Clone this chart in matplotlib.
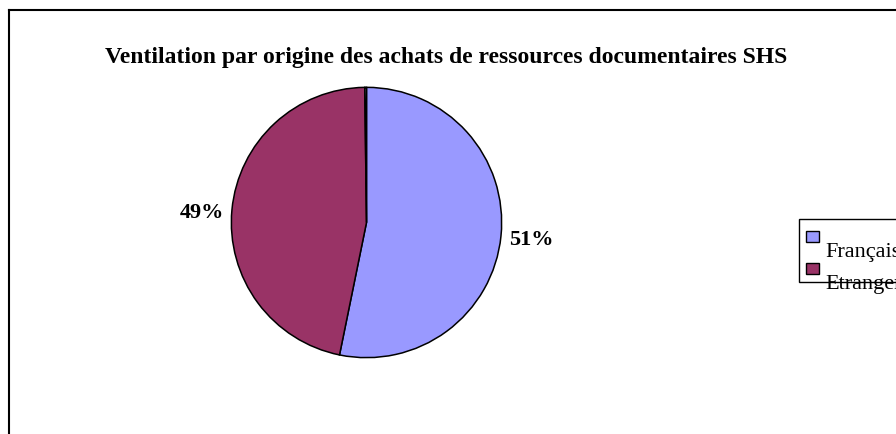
import matplotlib
matplotlib.use("Agg")
import matplotlib.pyplot as plt
from matplotlib.patches import Rectangle
from matplotlib.lines import Line2D

title = "Ventilation par origine des achats de ressources documentaires SHS"
categories = ["Français", "Etranger", ""]
values = [53.2, 46.6, 0.2]
labels = ["51%", "49%"]
colors = ["#9999FF", "#993366", "#FFFFFF"]

W, H = 896, 434
fig = plt.figure(figsize=(W / 100, H / 100), dpi=100)
plt.rcParams["font.family"] = ["Liberation Serif", "DejaVu Serif"]

def fx(x):
    return x / W

def fy(y):
    return 1 - y / H

# frame border (clipped on right/bottom)
fig.add_artist(Line2D([fx(9), fx(9)], [fy(10), 0], color="black", lw=1.5, transform=fig.transFigure))
fig.add_artist(Line2D([fx(9), 1], [fy(10), fy(10)], color="black", lw=1.5, transform=fig.transFigure))

# pie
cx, cy, r = 366.5, 222.5, 136.5
ax = fig.add_axes([fx(cx - r), fy(cy + r), 2 * r / W, 2 * r / H])
ax.pie(values, colors=colors, startangle=90, counterclock=False, radius=1,
       wedgeprops=dict(edgecolor="black", linewidth=1.1))
ax.set_xlim(-1.01, 1.01)
ax.set_ylim(-1.01, 1.01)
ax.axis("off")

# labels
fig.text(fx(531), fy(218), labels[0], ha="center", va="baseline", fontsize=16, fontweight="bold")
fig.text(fx(202), fy(218), labels[1], ha="center", va="baseline", fontsize=16, fontweight="bold")
fig.texts[-2].set_y(fy(245))

# title
fig.text(fx(446), fy(63), title, ha="center", va="baseline", fontsize=17, fontweight="bold")

# legend (manually drawn, clipped at right edge)
fig.add_artist(Rectangle((fx(799), fy(282)), fx(120), fy(219) - fy(282), transform=fig.transFigure,
                         facecolor="white", edgecolor="black", lw=1.0))
for i, (cat, col) in enumerate(zip(categories[:2], colors[:2])):
    y0 = 231 + i * 32
    fig.add_artist(Rectangle((fx(806), fy(y0 + 11)), fx(13), fy(y0) - fy(y0 + 11), transform=fig.transFigure,
                             facecolor=col, edgecolor="black", lw=1.0))
    fig.text(fx(825), fy(257 + i * 32), cat, ha="left", va="baseline", fontsize=16)

fig.savefig("out.png", dpi=100)
